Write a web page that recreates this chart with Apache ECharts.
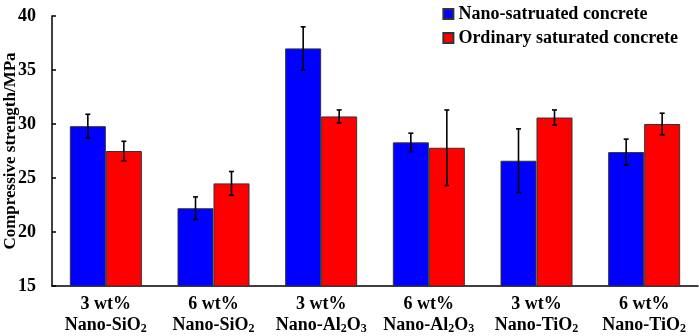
<!DOCTYPE html>
<html>
<head>
<meta charset="utf-8">
<script src="https://cdn.jsdelivr.net/npm/echarts@6/dist/echarts.min.js"></script>
<style>
  html, body { margin: 0; padding: 0; background: #fff; }
  #chart { width: 699px; height: 336px; }
</style>
</head>
<body>
<div id="chart"></div>
<script>
// values
const doseLabels = ["3 wt%", "6 wt%", "3 wt%", "6 wt%", "3 wt%", "6 wt%"];
const oxideBase = ["Nano-SiO", "Nano-SiO", "Nano-Al", "Nano-Al", "Nano-TiO", "Nano-TiO"];
const nanoValues = [29.8, 22.2, 37.0, 28.3, 26.6, 27.4];
const nanoErr = [1.1, 1.05, 2.0, 0.85, 2.95, 1.2];
const ordinaryValues = [27.5, 24.5, 30.7, 27.8, 30.6, 30.0];
const ordinaryErr = [0.9, 1.1, 0.6, 3.5, 0.7, 1.0];
const yTicks = [15, 20, 25, 30, 35, 40];

const serif = "Liberation Serif, Times New Roman, serif";
const categories = doseLabels.map((d, i) => d + "|" + i);

function oxideRich(i) {
  if (oxideBase[i] === "Nano-Al") return "{b|Nano-Al}{s|2}{b|O}{s|3}";
  return "{b|" + oxideBase[i] + "}{s|2}";
}

function errorSeries(values, errs, offset) {
  return {
    type: "custom",
    silent: true,
    z: 10,
    data: values.map((v, i) => [i, v, errs[i]]),
    renderItem: (params, api) => {
      const x = api.value(0);
      const v = api.value(1);
      const e = api.value(2);
      const bw = api.size([1, 0])[0];
      const top = api.coord([x, v + e]);
      const bot = api.coord([x, v - e]);
      const cx = top[0] + bw * offset;
      const cap = 2.5;
      const style = { stroke: "#000", lineWidth: 1.6 };
      return {
        type: "group",
        children: [
          { type: "line", shape: { x1: cx, y1: top[1], x2: cx, y2: bot[1] }, style },
          { type: "line", shape: { x1: cx - cap, y1: top[1], x2: cx + cap, y2: top[1] }, style },
          { type: "line", shape: { x1: cx - cap, y1: bot[1], x2: cx + cap, y2: bot[1] }, style }
        ]
      };
    }
  };
}

const chart = echarts.init(document.getElementById("chart"));
chart.setOption({
  animation: false,
  textStyle: { fontFamily: serif },
  grid: { left: 52, right: 1, top: 16, bottom: 50, containLabel: false, outerBoundsMode: "none" },
  legend: {
    orient: "vertical",
    right: 16,
    top: 0,
    itemWidth: 10,
    itemHeight: 10,
    itemGap: 6,
    icon: "rect",
    textStyle: { fontFamily: serif, fontWeight: "bold", fontSize: 18, color: "#000" },
    data: ["Nano-satruated concrete", "Ordinary saturated concrete"]
  },
  xAxis: {
    type: "category",
    data: categories,
    axisLine: { lineStyle: { color: "#000", width: 1.5 } },
    axisTick: { inside: true, length: 4, lineStyle: { color: "#000", width: 1.5 } },
    axisLabel: {
      margin: 8,
      interval: 0,
      lineHeight: 21,
      formatter: (val, i) => "{b|" + doseLabels[i] + "}\n" + oxideRich(i),
      rich: {
        b: { fontFamily: serif, fontWeight: "bold", fontSize: 18, color: "#000", lineHeight: 21 },
        s: { fontFamily: serif, fontWeight: "bold", fontSize: 12, color: "#000", padding: [7, 0, 0, 0], lineHeight: 21 }
      }
    }
  },
  yAxis: {
    type: "value",
    min: yTicks[0],
    max: yTicks[yTicks.length - 1],
    interval: 5,
    name: "Compressive strength/MPa",
    nameLocation: "middle",
    nameGap: 33,
    nameMoveOverlap: false,
    nameTextStyle: { fontFamily: serif, fontWeight: "bold", fontSize: 17, color: "#000" },
    axisLine: { show: true, lineStyle: { color: "#000", width: 1.5 } },
    axisTick: { show: true, inside: true, length: 4, lineStyle: { color: "#000", width: 1.5 } },
    axisLabel: { fontFamily: serif, fontWeight: "bold", fontSize: 18, color: "#000", margin: 16 },
    splitLine: { show: false }
  },
  series: [
    {
      name: "Nano-satruated concrete",
      type: "bar",
      data: nanoValues,
      barWidth: 36,
      barGap: "0%",
      itemStyle: { color: "#0000ff", borderColor: "#333", borderWidth: 1 }
    },
    {
      name: "Ordinary saturated concrete",
      type: "bar",
      data: ordinaryValues,
      barWidth: 36,
      barGap: "0%",
      itemStyle: { color: "#ff0000", borderColor: "#333", borderWidth: 1 }
    },
    errorSeries(nanoValues, nanoErr, -36 / 107.67 / 2),
    errorSeries(ordinaryValues, ordinaryErr, 36 / 107.67 / 2)
  ]
});
</script>
</body>
</html>
